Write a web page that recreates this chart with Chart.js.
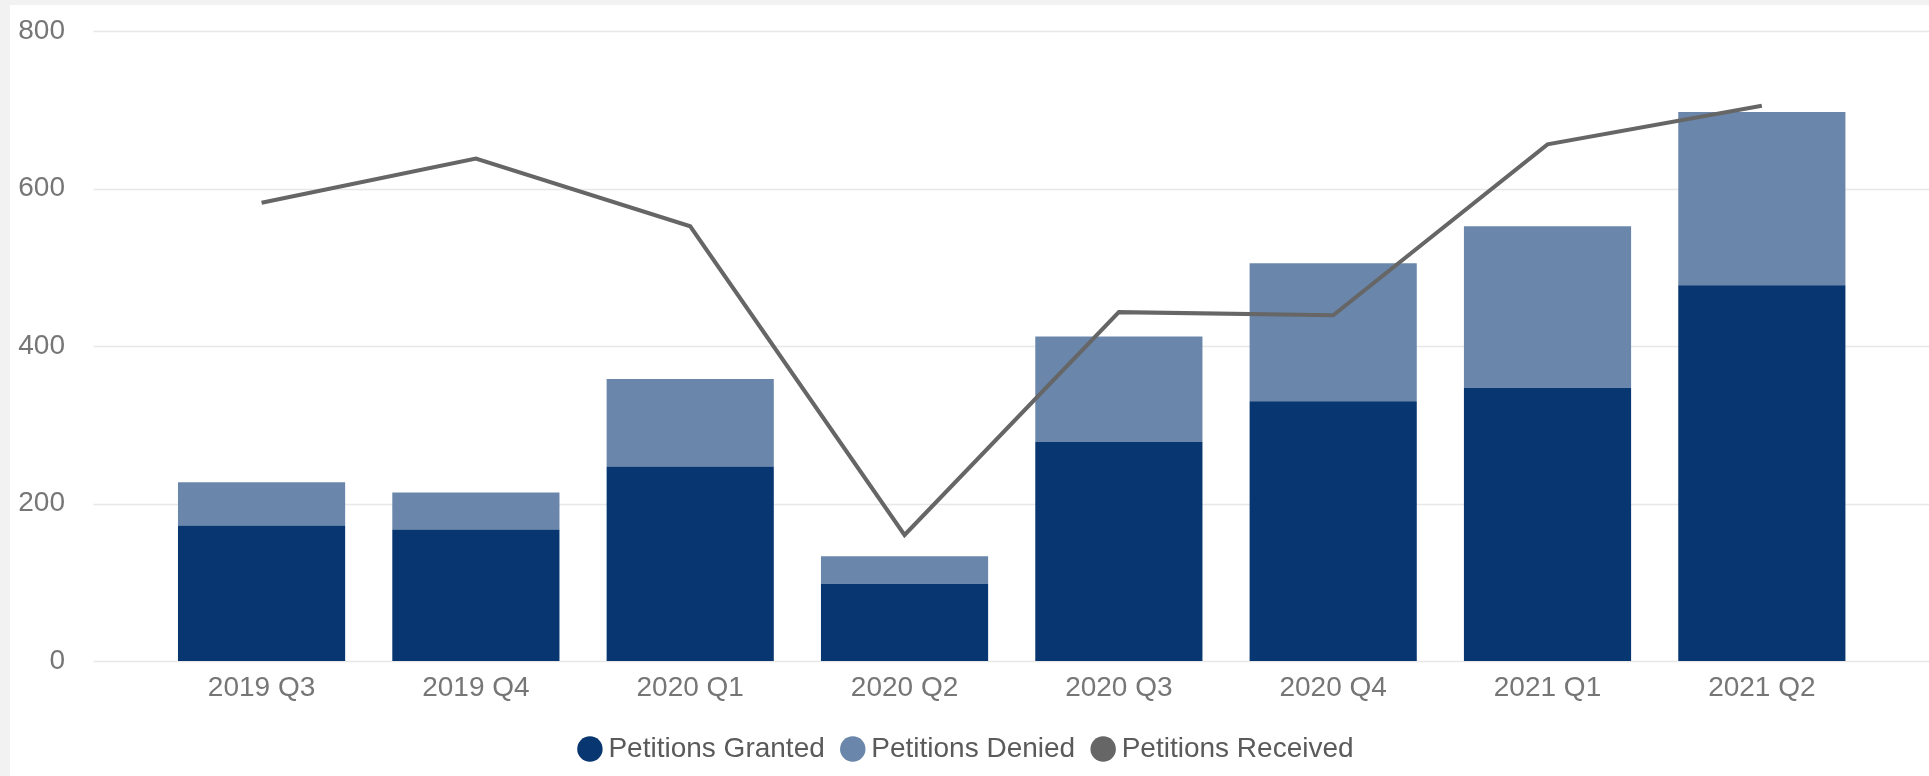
<!DOCTYPE html>
<html>
<head>
<meta charset="utf-8">
<title>Petitions by quarter</title>
<script src="https://cdn.jsdelivr.net/npm/chart.js@4/dist/chart.umd.min.js"></script>
<style>
  html, body { margin: 0; padding: 0; background: #f2f2f2; overflow: hidden; }
  #panel { position: absolute; left: 10px; top: 5px; width: 1919px; height: 771px; background: #ffffff; }
</style>
</head>
<body>
<div id="panel"><canvas id="chart"></canvas></div>
<script>
// data
const quarters = ['2019 Q3', '2019 Q4', '2020 Q1', '2020 Q2', '2020 Q3', '2020 Q4', '2021 Q1', '2021 Q2'];
const granted = [172, 167, 247, 98, 278, 330, 347, 477];
const denied = [55, 47, 111, 35, 134, 175, 205, 220];
const received = [582, 638, 552, 160, 443, 439, 656, 705];
const yTicks = [0, 200, 400, 600, 800];

const FONT = "'Liberation Sans', Arial, sans-serif";

// horizontal gridlines run a bit past the plot area on both sides
const wideGrid = {
    id: 'wideGrid',
    beforeDatasetsDraw(chart) {
        const { ctx, chartArea, scales } = chart;
        ctx.save();
        ctx.strokeStyle = '#e8e8e8';
        ctx.lineWidth = 1.5;
        yTicks.forEach(v => {
            const y = Math.round(scales.y.getPixelForValue(v)) + 0.5;
            ctx.beginPath();
            ctx.moveTo(chartArea.left - 61, y);
            ctx.lineTo(chartArea.right + 60, y);
            ctx.stroke();
        });
        ctx.restore();
    }
};

new Chart(document.getElementById('chart'), {
    data: {
        labels: quarters,
        datasets: [
            {
                type: 'bar',
                label: 'Petitions Granted',
                data: granted,
                backgroundColor: '#073670',
                stack: 'petitions',
                order: 2,
                barPercentage: 0.78,
                categoryPercentage: 1
            },
            {
                type: 'bar',
                label: 'Petitions Denied',
                data: denied,
                backgroundColor: '#6a87ab',
                stack: 'petitions',
                order: 3,
                barPercentage: 0.78,
                categoryPercentage: 1
            },
            {
                type: 'line',
                label: 'Petitions Received',
                data: received,
                borderColor: '#666666',
                backgroundColor: '#666666',
                borderWidth: 4,
                pointRadius: 0,
                tension: 0,
                stack: 'received',
                order: 1
            }
        ]
    },
    options: {
        responsive: true,
        maintainAspectRatio: false,
        animation: false,
        layout: { padding: { top: 26, left: 0, right: 0, bottom: 3 } },
        scales: {
            x: {
                stacked: true,
                grid: { display: false, drawTicks: false },
                border: { display: false },
                ticks: {
                    color: '#767676',
                    font: { family: FONT, size: 28 },
                    padding: 10,
                    maxRotation: 0
                },
                afterFit: scale => { scale.height = 50.5; }
            },
            y: {
                stacked: true,
                min: 0,
                max: 800,
                grid: { display: false, drawTicks: false },
                border: { display: false },
                ticks: {
                    stepSize: 200,
                    color: '#767676',
                    font: { family: FONT, size: 28 },
                    padding: 89.4
                },
                afterFit: scale => {
                    scale.width = 144.4;
                    scale.paddingTop = 17;
                    scale.paddingBottom = 17;
                }
            },
            // empty right-hand strip, keeps the plot area clear of the right edge
            yRight: {
                axis: 'y',
                position: 'right',
                display: true,
                grid: { display: false, drawTicks: false },
                border: { display: false },
                ticks: { display: false },
                afterFit: scale => {
                    scale.width = 60;
                    scale.paddingTop = 0;
                    scale.paddingBottom = 0;
                }
            }
        },
        plugins: {
            tooltip: { enabled: false },
            legend: {
                position: 'bottom',
                labels: {
                    usePointStyle: true,
                    boxWidth: 9,
                    boxHeight: 18,
                    padding: 23.5,
                    color: '#5a5a5a',
                    font: { family: FONT, size: 28 },
                    sort: (a, b) => a.datasetIndex - b.datasetIndex,
                    generateLabels: chart => {
                        const items = Chart.defaults.plugins.legend.labels.generateLabels(chart);
                        items.forEach(item => {
                            item.pointStyle = 'circle';
                            item.lineWidth = 0;
                            item.strokeStyle = 'rgba(0,0,0,0)';
                        });
                        return items;
                    }
                }
            }
        }
    },
    plugins: [wideGrid]
});
</script>
</body>
</html>
